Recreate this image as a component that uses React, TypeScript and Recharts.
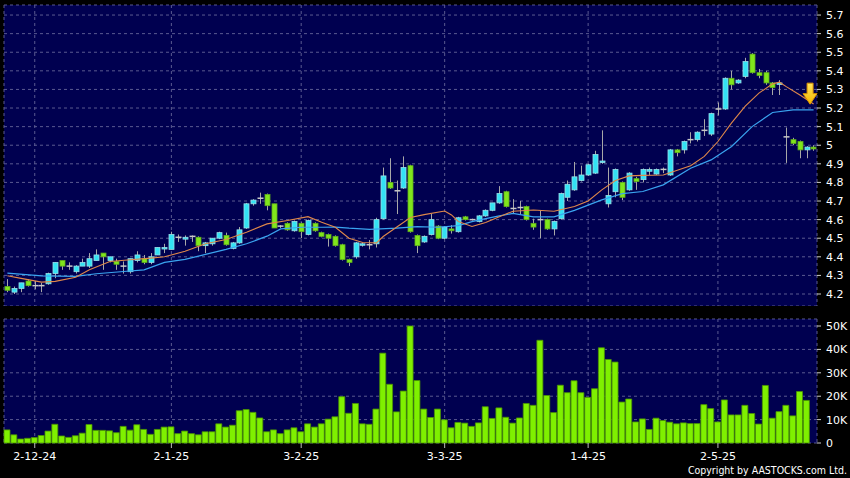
import React from 'react';
import { ComposedChart, Bar, Line, XAxis, YAxis, CartesianGrid, ReferenceDot } from 'recharts';

// daily OHLC
const opens = [
  4.24, 4.21, 4.23, 4.27, 4.245, 4.245, 4.255, 4.31, 4.38, 4.35,
  4.32, 4.35, 4.35, 4.38, 4.42, 4.38, 4.375, 4.35, 4.32, 4.38,
  4.39, 4.37, 4.41, 4.445, 4.44, 4.505, 4.495, 4.51, 4.505, 4.46,
  4.47, 4.5, 4.515, 4.445, 4.475, 4.555, 4.685, 4.715, 4.735, 4.685,
  4.565, 4.58, 4.54, 4.58, 4.52, 4.58, 4.53, 4.52, 4.51, 4.465,
  4.385, 4.4, 4.465, 4.465, 4.47, 4.605, 4.8, 4.755, 4.77, 4.89,
  4.515, 4.48, 4.52, 4.565, 4.5, 4.55, 4.535, 4.615, 4.6, 4.59,
  4.62, 4.65, 4.69, 4.75, 4.66, 4.665, 4.67, 4.58, 4.6, 4.6,
  4.55, 4.605, 4.72, 4.76, 4.81, 4.84, 4.85, 4.91, 4.685, 4.75,
  4.8, 4.76, 4.82, 4.815, 4.86, 4.845, 4.87, 4.84, 4.975, 4.975,
  5.03, 5.03, 5.08, 5.06, 5.195, 5.195, 5.36, 5.335, 5.37, 5.49,
  5.39, 5.39, 5.335, 5.33, 5.045, 5.03, 5.02, 4.975, 4.99,
];
const closes = [
  4.22, 4.23, 4.26, 4.245, 4.245, 4.245, 4.31, 4.37, 4.35, 4.35,
  4.35, 4.37, 4.39, 4.41, 4.4, 4.4, 4.36, 4.35, 4.39, 4.41,
  4.37, 4.4, 4.45, 4.45, 4.52, 4.505, 4.505, 4.51, 4.46, 4.475,
  4.5, 4.53, 4.465, 4.475, 4.545, 4.685, 4.705, 4.715, 4.675, 4.555,
  4.565, 4.545, 4.59, 4.535, 4.595, 4.54, 4.51, 4.5, 4.46, 4.385,
  4.37, 4.475, 4.47, 4.465, 4.6, 4.835, 4.77, 4.755, 4.88, 4.535,
  4.46, 4.51, 4.6, 4.5, 4.56, 4.54, 4.61, 4.6, 4.6, 4.62,
  4.65, 4.69, 4.74, 4.67, 4.66, 4.665, 4.6, 4.56, 4.6, 4.55,
  4.59, 4.74, 4.79, 4.83, 4.84, 4.895, 4.95, 4.915, 4.73, 4.87,
  4.72, 4.85, 4.805, 4.87, 4.87, 4.87, 4.87, 4.975, 4.96, 5.02,
  5.03, 5.07, 5.08, 5.17, 5.195, 5.36, 5.325, 5.35, 5.45, 5.39,
  5.375, 5.335, 5.31, 5.335, 5.045, 5.01, 4.975, 4.99, 4.98,
];
const highs = [
  4.28, 4.24, 4.26, 4.28, 4.27, 4.26, 4.315, 4.37, 4.38, 4.37,
  4.355, 4.39, 4.42, 4.44, 4.42, 4.4, 4.39, 4.375, 4.39, 4.43,
  4.41, 4.42, 4.45, 4.47, 4.535, 4.52, 4.515, 4.515, 4.51, 4.48,
  4.5, 4.535, 4.53, 4.48, 4.56, 4.69, 4.71, 4.745, 4.74, 4.685,
  4.57, 4.585, 4.595, 4.585, 4.6, 4.585, 4.535, 4.525, 4.515, 4.47,
  4.39, 4.48, 4.475, 4.49, 4.61, 4.88, 4.93, 4.81, 4.94, 4.895,
  4.52, 4.515, 4.63, 4.57, 4.565, 4.57, 4.615, 4.62, 4.605, 4.625,
  4.655, 4.69, 4.78, 4.755, 4.71, 4.7, 4.675, 4.605, 4.65, 4.605,
  4.595, 4.745, 4.81, 4.91, 4.89, 4.9, 4.97, 5.08, 4.88, 4.875,
  4.805, 4.855, 4.83, 4.875, 4.88, 4.875, 4.88, 4.98, 4.98, 5.025,
  5.07, 5.075, 5.14, 5.175, 5.23, 5.365, 5.4, 5.355, 5.47, 5.495,
  5.41, 5.4, 5.34, 5.35, 5.095, 5.04, 5.025, 4.995, 5.0,
];
const lows = [
  4.21, 4.2, 4.21, 4.24, 4.225, 4.21, 4.25, 4.285, 4.33, 4.33,
  4.31, 4.35, 4.34, 4.38, 4.33, 4.37, 4.33, 4.31, 4.31, 4.37,
  4.36, 4.36, 4.41, 4.42, 4.44, 4.48, 4.46, 4.48, 4.43, 4.42,
  4.46, 4.495, 4.46, 4.44, 4.47, 4.55, 4.675, 4.685, 4.65, 4.555,
  4.555, 4.54, 4.535, 4.5, 4.515, 4.535, 4.505, 4.455, 4.455, 4.38,
  4.35, 4.39, 4.455, 4.44, 4.45, 4.6, 4.765, 4.63, 4.765, 4.53,
  4.42, 4.475, 4.515, 4.495, 4.495, 4.525, 4.53, 4.595, 4.595, 4.585,
  4.615, 4.645, 4.685, 4.665, 4.635, 4.625, 4.595, 4.545, 4.5, 4.545,
  4.515, 4.6, 4.7, 4.755, 4.805, 4.835, 4.845, 4.9, 4.665, 4.72,
  4.705, 4.755, 4.76, 4.8, 4.84, 4.84, 4.85, 4.835, 4.94, 4.955,
  5.01, 5.02, 5.05, 5.05, 5.16, 5.19, 5.3, 5.33, 5.36, 5.385,
  5.36, 5.325, 5.27, 5.27, 4.905, 5.0, 4.93, 4.93, 4.97,
];
// volume in thousands (last session shows no bar)
const volumes: (number | null)[] = [
  5.6, 3.5, 1.7, 2.0, 2.3, 3.2, 5.1, 8.0, 3.0, 2.4,
  3.1, 4.2, 7.9, 5.4, 5.4, 5.2, 4.4, 7.1, 5.5, 7.8,
  5.8, 3.7, 5.8, 6.8, 6.9, 4.0, 5.1, 4.0, 3.5, 4.8,
  4.8, 8.2, 6.8, 7.6, 13.8, 14.3, 13.1, 10.7, 4.8, 5.6,
  4.0, 5.6, 6.5, 4.8, 8.2, 6.8, 8.2, 10.2, 11.2, 19.8,
  12.7, 16.9, 8.2, 8.0, 14.5, 38.4, 25.1, 13.3, 22.2, 50,
  26.7, 14.5, 10.9, 14.5, 9.9, 6.5, 8.8, 8.5, 7.1, 8.6,
  15.5, 10.5, 15.0, 11.0, 8.5, 10.7, 16.9, 16.1, 43.9, 20.3,
  13.0, 24.7, 21.5, 26.6, 21.5, 19.5, 23.2, 40.7, 35.7, 34.6,
  17.5, 18.8, 9.0, 10.3, 5.8, 10.6, 9.6, 8.9, 8.2, 8.6,
  8.3, 8.3, 16.4, 14.7, 9.0, 18.4, 12.0, 12.0, 16.1, 12.6,
  8.1, 24.6, 10.6, 13.4, 16.1, 11.6, 22.0, 18.2, null,
];
// moving averages as [session, value]
const maFastPts: [number, number][] = [
  [0, 4.298], [2, 4.284], [5, 4.264], [7, 4.268], [10, 4.29], [12, 4.33], [15, 4.375],
  [18, 4.384], [21, 4.393], [23, 4.4], [26, 4.43], [29, 4.47], [32, 4.493], [35, 4.532],
  [38, 4.577], [41, 4.595], [44, 4.616], [46, 4.586], [48, 4.559], [50, 4.5], [52, 4.477],
  [54, 4.475], [55, 4.509], [57, 4.56], [59, 4.611], [61, 4.627], [64, 4.646], [65, 4.625],
  [66, 4.59], [68, 4.563], [70, 4.584], [72, 4.615], [74, 4.645], [77, 4.652], [80, 4.645],
  [83, 4.67], [85, 4.7], [87, 4.76], [89, 4.81], [91, 4.835], [93, 4.838], [96, 4.84],
  [100, 4.89], [102, 4.94], [104, 5.02], [106, 5.12], [108, 5.21], [110, 5.28], [112, 5.33],
  [113, 5.339], [114, 5.315], [116, 5.27], [118, 5.222],
];
const maSlowPts: [number, number][] = [
  [0, 4.312], [5, 4.298], [10, 4.295], [13, 4.309], [17, 4.321], [20, 4.33], [23, 4.37],
  [26, 4.386], [29, 4.413], [32, 4.44], [35, 4.47], [38, 4.511], [40, 4.55], [43, 4.559],
  [46, 4.559], [48, 4.56], [50, 4.554], [53, 4.548], [57, 4.554], [60, 4.562], [63, 4.559],
  [66, 4.568], [68, 4.589], [70, 4.605], [72, 4.62], [74, 4.633], [77, 4.615], [80, 4.615],
  [83, 4.65], [87, 4.706], [90, 4.74], [93, 4.751], [96, 4.787], [100, 4.876], [103, 4.921],
  [106, 4.993], [109, 5.1], [112, 5.176], [115, 5.19], [118, 5.19],
];
const tickIdx = [4, 24, 43, 64, 85, 104];
const tickLabels = ['2-12-24', '2-1-25', '3-2-25', '3-3-25', '1-4-25', '2-5-25'];
const priceTicks = [4.2, 4.3, 4.4, 4.5, 4.6, 4.7, 4.8, 4.9, 5, 5.1, 5.2, 5.3, 5.4, 5.5, 5.6, 5.7];
const volTicks = [0, 10, 20, 30, 40, 50];

const fastMap = new Map(maFastPts);
const slowMap = new Map(maSlowPts);
const data = opens.map((o, i) => ({
  idx: i,
  open: o,
  close: closes[i],
  high: highs[i],
  low: lows[i],
  range: [lows[i], highs[i]],
  vol: volumes[i],
  maFast: fastMap.has(i) ? fastMap.get(i) : null,
  maSlow: slowMap.has(i) ? slowMap.get(i) : null,
}));

const BG = '#000050';
const GRID = '#5a5a90';
const tickStyle = { fill: '#ffffff', fontSize: 11, fontFamily: 'DejaVu Sans' };

const Candle = (props: any) => {
  const { x, y, width, height, payload } = props;
  const { open, close, high, low } = payload;
  const top = Math.min(y, y + height);
  const bottom = Math.max(y, y + height);
  const span = high - low || 1;
  const py = (v: number) => top + ((high - v) / span) * (bottom - top);
  const cx = Math.round(x + width / 2) + 0.5;
  const bw = 5;
  const wick = <line x1={cx} x2={cx} y1={top} y2={bottom} stroke="#a8a8a8" strokeWidth={1} />;
  if (open === close) {
    return (
      <g>
        {wick}
        <line x1={cx - bw / 2 - 0.5} x2={cx + bw / 2 + 0.5} y1={py(open)} y2={py(open)} stroke="#c8c8c8" strokeWidth={1.5} />
      </g>
    );
  }
  const up = close > open;
  const bt = py(Math.max(open, close));
  const bb = py(Math.min(open, close));
  return (
    <g>
      {wick}
      <rect
        x={cx - bw / 2}
        y={bt}
        width={bw}
        height={Math.max(bb - bt, 1.5)}
        fill={up ? '#33e2f4' : '#80e61c'}
        stroke={up ? '#9adfe8' : '#5fae1a'}
        strokeWidth={0.8}
      />
    </g>
  );
};

const Arrow = (props: any) => {
  const { cx, cy } = props;
  const c = cx - 3.5;
  const pts = [
    [c - 3, cy - 10], [c + 3, cy - 10], [c + 3, cy + 0.5], [c + 7, cy + 0.5],
    [c, cy + 11], [c - 7, cy + 0.5], [c - 3, cy + 0.5],
  ].map((p) => p.join(',')).join(' ');
  return (
    <g>
      <defs>
        <linearGradient id="arrowFill" x1="0" y1="0" x2="0" y2="1">
          <stop offset="0%" stopColor="#ffe45a" />
          <stop offset="100%" stopColor="#f5b800" />
        </linearGradient>
      </defs>
      <polygon points={pts} fill="url(#arrowFill)" stroke="#d99200" strokeWidth={1} />
    </g>
  );
};

export default function App() {
  return (
    <div style={{ position: 'absolute', left: 0, top: 0, width: 850, height: 478, background: '#000', overflow: 'hidden' }}>
      <div style={{ position: 'absolute', left: 0, top: 0 }}>
        <ComposedChart width={850} height={306} data={data} margin={{ top: 5, right: 0, left: 4, bottom: 0 }}>
          <CartesianGrid fill={BG} stroke={GRID} strokeDasharray="3 3" />
          <XAxis dataKey="idx" type="category" hide ticks={tickIdx} interval={0} />
          <YAxis
            orientation="right"
            width={33}
            domain={[4.1355, 5.754]}
            ticks={priceTicks}
            interval={0}
            axisLine={false}
            tickSize={4}
            tickMargin={5}
            tickLine={{ stroke: '#cccccc' }}
            tick={tickStyle}
            tickFormatter={(v: number) => String(Number(v.toFixed(1)))}
          />
          <Bar dataKey="range" shape={<Candle />} isAnimationActive={false} />
          <Line dataKey="maSlow" type="linear" stroke="#3aa4f0" strokeWidth={1.2} dot={false} connectNulls isAnimationActive={false} />
          <Line dataKey="maFast" type="linear" stroke="#e0884a" strokeWidth={1.1} dot={false} connectNulls isAnimationActive={false} />
          <ReferenceDot x={118} y={5.28} r={0} shape={<Arrow />} />
        </ComposedChart>
      </div>
      <div style={{ position: 'absolute', left: 0, top: 306 }}>
        <ComposedChart width={850} height={172} data={data} margin={{ top: 13, right: 0, left: 4, bottom: 0 }}>
          <CartesianGrid fill={BG} stroke={GRID} strokeDasharray="3 3" />
          <XAxis
            dataKey="idx"
            type="category"
            ticks={tickIdx}
            interval={0}
            height={35}
            axisLine={false}
            tickSize={5}
            tickMargin={4}
            tickLine={{ stroke: '#bbbbbb' }}
            tick={tickStyle}
            tickFormatter={(v: number) => tickLabels[tickIdx.indexOf(v)] ?? ''}
          />
          <YAxis
            orientation="right"
            width={33}
            domain={[0, 53]}
            ticks={volTicks}
            interval={0}
            axisLine={false}
            tickSize={4}
            tickMargin={5}
            tickLine={{ stroke: '#cccccc' }}
            tick={tickStyle}
            tickFormatter={(v: number) => (v === 0 ? '0' : `${v}K`)}
          />
          <Bar dataKey="vol" barSize={6} fill="#7ff000" stroke="#4b9600" strokeWidth={0.8} isAnimationActive={false} />
        </ComposedChart>
      </div>
      <div
        style={{
          position: 'absolute',
          right: 3,
          top: 463,
          color: '#ffffff',
          fontFamily: "'DejaVu Sans Condensed', 'DejaVu Sans', sans-serif",
          fontStretch: 'condensed',
          fontSize: 10.5,
          lineHeight: '14px',
        }}
      >
        Copyright by AASTOCKS.com Ltd.
      </div>
    </div>
  );
}
